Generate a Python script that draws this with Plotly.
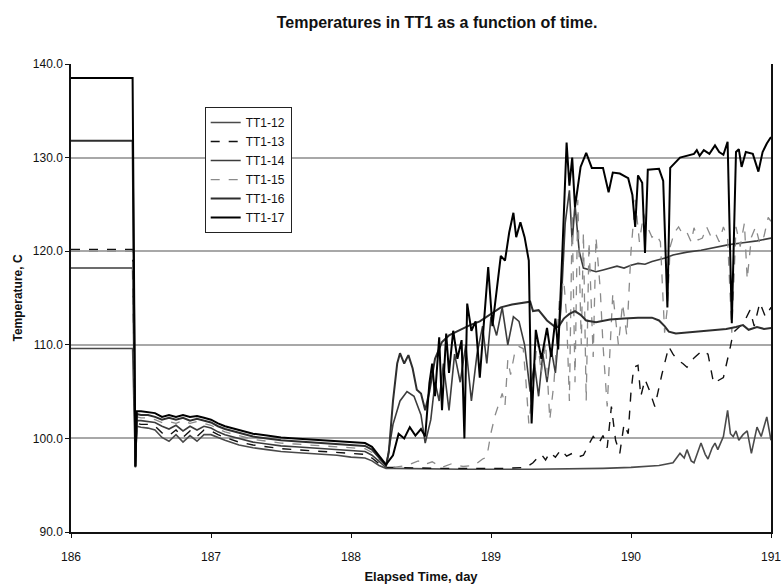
import plotly.graph_objects as go

# ---------------- data ----------------
names = ["TT1-12", "TT1-13", "TT1-14", "TT1-15", "TT1-16", "TT1-17"]

# initial plateau (day 186.0 - 186.44) and the short drop
t_init = [186.0, 186.44, 186.46]
init_12 = [109.6, 109.6, 96.9]
init_13 = [120.2, 120.2, 97.0]
init_14 = [118.2, 118.2, 97.0]
init_15 = [120.0, 120.0, 97.1]
init_16 = [131.8, 131.8, 97.0]
init_17 = [138.5, 138.5, 97.0]

# the slowly cooling bundle (day 186.47 - 188.25)
t_band = [186.47, 186.50, 186.55, 186.60, 186.65, 186.70, 186.75, 186.80, 186.85,
          186.90, 186.95, 187.00, 187.05, 187.10, 187.20, 187.30, 187.40, 187.50,
          187.60, 187.70, 187.80, 187.90, 188.00, 188.10, 188.15, 188.20, 188.25]
band_17 = [102.9, 102.9, 102.8, 102.7, 102.3, 102.5, 102.3, 102.5, 102.3, 102.4, 102.2, 102.0,
           101.6, 101.3, 100.9, 100.5, 100.3, 100.1, 100.0, 99.9, 99.8, 99.7, 99.6, 99.5, 99.1, 98.2, 97.2]
band_16 = [102.6, 102.5, 102.5, 102.3, 102.0, 102.2, 102.0, 102.2, 101.9, 102.1, 101.9, 101.7,
           101.3, 101.0, 100.6, 100.2, 100.0, 99.8, 99.7, 99.6, 99.5, 99.4, 99.3, 99.2, 98.8, 98.0, 97.1]
band_15 = [102.3, 102.2, 102.2, 102.0, 101.7, 101.8, 101.6, 101.9, 101.6, 101.8, 101.6, 101.4,
           101.0, 100.7, 100.3, 99.9, 99.7, 99.5, 99.4, 99.3, 99.2, 99.1, 99.0, 98.9, 98.5, 97.7, 97.0]
band_14 = [101.9, 101.9, 101.8, 101.7, 101.3, 101.0, 101.4, 100.8, 101.3, 100.9, 101.3, 101.1,
           100.7, 100.4, 100.0, 99.6, 99.4, 99.2, 99.1, 99.0, 98.9, 98.8, 98.7, 98.6, 98.2, 97.5, 96.9]
band_13 = [101.6, 101.5, 101.5, 101.3, 100.6, 100.3, 100.9, 100.1, 100.8, 100.2, 100.9, 100.8,
           100.4, 100.1, 99.6, 99.3, 99.1, 98.9, 98.8, 98.7, 98.6, 98.5, 98.4, 98.3, 97.9, 97.3, 96.9]
band_12 = [101.3, 101.2, 101.1, 100.9, 100.1, 99.7, 100.4, 99.6, 100.3, 99.7, 100.4, 100.4,
           100.1, 99.8, 99.3, 99.0, 98.8, 98.6, 98.5, 98.4, 98.3, 98.2, 98.0, 97.9, 97.6, 97.1, 96.8]

# later behaviour (day 188.25 - 191)
t_17 = [188.30, 188.34, 188.38, 188.42, 188.46, 188.50, 188.53, 188.56, 188.58, 188.60, 188.63,
        188.65, 188.68, 188.70, 188.73, 188.76, 188.79, 188.81, 188.83, 188.86, 188.89, 188.92,
        188.95, 188.98, 189.01, 189.04, 189.07, 189.10, 189.13, 189.16, 189.18, 189.21, 189.24,
        189.27, 189.29, 189.32, 189.36, 189.40, 189.43, 189.46, 189.48, 189.51, 189.54, 189.56,
        189.58, 189.60, 189.64, 189.68, 189.72, 189.80, 189.84, 189.87, 189.92, 189.98, 190.01,
        190.03, 190.05, 190.08, 190.10, 190.12, 190.20, 190.23, 190.26, 190.28, 190.35, 190.45,
        190.47, 190.49, 190.52, 190.56, 190.60, 190.63, 190.66, 190.69, 190.72, 190.75, 190.77,
        190.79, 190.82, 190.87, 190.91, 190.94, 190.97, 191.00]
v_17 = [98.2, 100.5, 100.0, 101.2, 100.3, 101.0, 100.2, 105.9, 108.0, 104.5, 110.8,
        103.0, 111.2, 107.0, 111.5, 108.5, 110.5, 100.0, 114.4, 111.5, 112.5, 106.5,
        112.5, 118.3, 112.0, 116.0, 119.5, 119.0, 122.0, 124.1, 121.5, 123.1, 121.5,
        119.0, 101.6, 111.6, 108.5, 111.8, 108.7, 112.8, 109.5, 120.0, 131.6, 127.0,
        130.0, 124.7, 129.0, 130.5, 128.9, 128.9, 126.3, 128.4, 128.3, 127.8, 126.0,
        122.6, 128.1, 127.3, 119.8, 128.7, 128.8, 127.5, 114.0, 128.9, 130.0, 130.4,
        130.8, 130.2, 130.8, 130.4, 131.3, 130.6, 130.3, 131.7, 112.3, 130.6, 130.9,
        129.0, 130.6, 130.4, 128.5, 130.6, 131.5, 132.2]

t_16 = [188.27, 188.30, 188.33, 188.35, 188.38, 188.41, 188.44, 188.47, 188.50, 188.53, 188.56,
        188.60, 188.65, 188.70, 188.78, 188.85, 188.92, 189.00, 189.07, 189.15, 189.22, 189.28,
        189.30, 189.34, 189.40, 189.45, 189.48, 189.52, 189.56, 189.60, 189.64, 189.68, 189.75,
        189.85, 189.95, 190.05, 190.15, 190.20, 190.24, 190.27, 190.32, 190.40, 190.50, 190.60,
        190.68, 190.75, 190.80, 190.84, 190.90, 190.95, 191.00]
v_16 = [98.5, 104.0, 108.0, 109.1, 108.0, 108.9, 107.5, 105.2, 104.8, 103.0, 105.0,
        108.5, 110.3, 111.0, 111.6, 112.1, 112.5, 113.3, 114.0, 114.3, 114.5, 114.6,
        113.6, 113.7, 112.6, 112.0, 111.9, 112.8, 113.3, 113.6, 113.2, 112.6, 112.4,
        112.7, 112.8, 112.9, 112.9, 112.6, 112.0, 111.4, 111.2, 111.3, 111.5, 111.6,
        111.7, 111.9, 112.1, 111.6, 111.9, 111.7, 111.8]

t_15 = [188.30, 188.40, 188.48, 188.52, 188.58, 188.65, 188.72, 188.80, 188.88, 188.94, 188.97,
        189.00, 189.03, 189.06, 189.08, 189.10, 189.12, 189.14, 189.17, 189.20, 189.23, 189.25,
        189.27, 189.30, 189.33, 189.36, 189.39, 189.42, 189.45, 189.49, 189.52, 189.54, 189.56,
        189.58, 189.60, 189.62, 189.645, 189.66, 189.68, 189.70, 189.73, 189.75, 189.78, 189.80,
        189.83, 189.87, 189.91, 189.94, 189.97, 190.00, 190.03, 190.06, 190.09, 190.12, 190.15,
        190.18, 190.21, 190.24, 190.26, 190.28, 190.31, 190.34, 190.37, 190.40, 190.43, 190.45,
        190.48, 190.51, 190.54, 190.57, 190.60, 190.63, 190.66, 190.69, 190.72, 190.75, 190.78,
        190.81, 190.83, 190.86, 190.89, 190.92, 190.95, 190.98, 191.00]
v_15 = [96.9, 97.1, 97.6, 97.2, 97.5, 96.9, 97.3, 97.0, 97.1, 97.8, 98.0,
        100.6, 102.5, 103.8, 104.8, 103.5, 108.4, 106.8, 109.2, 109.8, 109.6, 106.0,
        101.6, 105.5, 110.5, 107.0, 110.2, 102.0, 106.0, 115.1, 116.9, 113.0, 104.0,
        124.0, 106.0, 125.5, 110.0, 122.0, 104.0, 121.0, 108.7, 121.5, 116.0, 110.0,
        103.4, 115.5, 110.0, 114.4, 111.0, 120.0, 125.5, 121.0, 124.0, 122.5, 121.5,
        121.8, 121.0, 111.3, 114.0, 120.5, 122.0, 122.6, 121.8, 122.0, 121.0, 122.5,
        121.2, 121.4, 122.6, 121.6, 122.0, 121.0, 122.6, 121.4, 111.3, 122.6, 120.5,
        123.0, 117.0, 121.5, 122.6, 120.8, 121.6, 123.6, 123.2]

t_14 = [188.30, 188.35, 188.40, 188.45, 188.50, 188.53, 188.57, 188.60, 188.63, 188.66, 188.70,
        188.74, 188.78, 188.82, 188.86, 188.90, 188.94, 188.97, 189.00, 189.04, 189.08, 189.12,
        189.16, 189.20, 189.24, 189.28, 189.31, 189.34, 189.37, 189.40, 189.43, 189.46, 189.50,
        189.53, 189.56, 189.58, 189.60, 189.63, 189.66, 189.70, 189.75, 189.80, 189.85, 189.90,
        189.95, 190.00, 190.05, 190.10, 190.15, 190.20, 190.25, 190.30, 190.40, 190.50, 190.60,
        190.70, 190.80, 190.90, 191.00]
v_14 = [101.5, 104.0, 105.0, 104.5, 102.5, 99.5, 102.0, 106.0, 104.0, 108.0, 103.0,
        109.0, 106.0, 110.0, 104.0, 109.0, 112.0, 108.0, 113.0, 111.0, 114.0, 110.0,
        113.0, 112.5, 110.0, 105.0, 108.0, 104.5, 109.0, 106.0, 109.5, 107.0, 114.0,
        123.0, 126.5, 121.0, 125.0, 120.0, 118.2, 118.0, 117.8, 118.0, 118.2, 118.4,
        118.2, 118.5, 118.7, 118.6, 118.9, 119.1, 119.3, 119.6, 119.9, 120.1, 120.4,
        120.7, 120.9, 121.1, 121.4]

t_13 = [188.30, 188.60, 188.90, 189.10, 189.25, 189.30, 189.33, 189.36, 189.39, 189.42, 189.46,
        189.50, 189.54, 189.58, 189.62, 189.66, 189.70, 189.73, 189.77, 189.80, 189.83, 189.86,
        189.89, 189.92, 189.95, 189.98, 190.00, 190.02, 190.05, 190.07, 190.10, 190.13, 190.17,
        190.22, 190.27, 190.30, 190.33, 190.37, 190.40, 190.45, 190.51, 190.55, 190.59, 190.63,
        190.66, 190.71, 190.73, 190.78, 190.82, 190.85, 190.88, 190.92, 190.96, 191.00]
v_13 = [96.9, 96.8, 96.8, 96.8, 96.9, 97.4, 97.9, 98.3, 97.7, 98.5, 98.0,
        98.8, 98.1, 98.4, 98.0, 98.2, 99.4, 100.2, 99.5, 100.3, 99.0, 103.4,
        99.8, 98.4, 101.5, 100.5, 105.0, 107.6, 107.8, 104.5, 106.3, 105.2, 103.4,
        106.8, 109.8, 109.0, 108.4, 108.0, 107.6, 108.6, 109.4, 109.0, 105.9, 106.2,
        106.5, 109.8, 111.3, 112.0, 112.8, 113.7, 112.0, 114.5, 113.0, 114.0]

t_12 = [188.30, 188.80, 189.30, 189.80, 190.00, 190.20, 190.30, 190.35, 190.38, 190.40, 190.43,
        190.45, 190.50, 190.53, 190.55, 190.58, 190.60, 190.62, 190.66, 190.69, 190.71, 190.73,
        190.75, 190.77, 190.80, 190.83, 190.86, 190.90, 190.93, 190.97, 191.00]
v_12 = [96.8, 96.7, 96.7, 96.8, 96.9, 97.1, 97.4, 98.4, 97.9, 98.8, 97.6,
        97.4, 99.5, 98.3, 97.8, 99.0, 99.5, 98.8, 100.2, 103.0, 100.5, 100.2,
        100.8, 99.8, 100.4, 100.8, 98.4, 101.2, 100.2, 102.3, 99.8]

y_tick_vals = [90, 100, 110, 120, 130, 140]
x_tick_vals = [186, 187, 188, 189, 190, 191]
x_tick_text = ["186", "187", "188", "189", "190", "191"]

series = {
    "TT1-12": (init_12, band_12, t_12, v_12),
    "TT1-13": (init_13, band_13, t_13, v_13),
    "TT1-14": (init_14, band_14, t_14, v_14),
    "TT1-15": (init_15, band_15, t_15, v_15),
    "TT1-16": (init_16, band_16, t_16, v_16),
    "TT1-17": (init_17, band_17, t_17, v_17),
}

styles = {
    "TT1-12": dict(color="#4a4a4a", width=1.6, dash="solid"),
    "TT1-13": dict(color="#111111", width=1.4, dash="dash"),
    "TT1-14": dict(color="#3c3c3c", width=1.6, dash="solid"),
    "TT1-15": dict(color="#8a8a8a", width=1.3, dash="dash"),
    "TT1-16": dict(color="#2e2e2e", width=2.0, dash="solid"),
    "TT1-17": dict(color="#000000", width=2.0, dash="solid"),
}

FONT = "Liberation Sans, Arial, sans-serif"

fig = go.Figure()
for name in names:
    init_v, band_v, t_post, v_post = series[name]
    fig.add_trace(go.Scatter(
        x=t_init + t_band + t_post,
        y=init_v + band_v + v_post,
        mode="lines",
        name=name,
        line=styles[name],
    ))

fig.update_layout(
    width=783, height=584,
    margin=dict(l=71, r=12, t=64, b=52),
    paper_bgcolor="white", plot_bgcolor="white",
    font=dict(family=FONT, size=12, color="#111"),
    title=dict(
        text="<b>Temperatures in TT1 as a function of time.</b>",
        x=437 / 783, xref="container", xanchor="center",
        y=1 - 22 / 584, yref="container", yanchor="middle",
        font=dict(family=FONT, size=16, color="#111"),
    ),
    showlegend=True,
    legend=dict(
        x=0.191, y=0.908, xanchor="left", yanchor="top",
        bordercolor="#222", borderwidth=1, bgcolor="white",
        font=dict(family=FONT, size=12, color="#111"),
        itemwidth=30, tracegroupgap=0,
    ),
)

fig.update_xaxes(
    range=[186, 191], tickvals=x_tick_vals, ticktext=x_tick_text,
    showgrid=False, zeroline=False, automargin=False,
    showline=True, linecolor="#111", linewidth=1.5,
    ticks="outside", ticklen=4, tickcolor="#111", ticklabelstandoff=9,
    tickfont=dict(family=FONT, size=12, color="#111"),
    title=dict(text="<b>Elapsed Time, day</b>", standoff=10,
               font=dict(family=FONT, size=13, color="#111")),
)
fig.update_yaxes(
    range=[90, 140], tickvals=y_tick_vals, tickformat=".1f",
    showgrid=True, gridcolor="#a8a8a8", gridwidth=1.5, zeroline=False, automargin=False,
    showline=True, mirror=True, linecolor="#111", linewidth=1.5,
    ticks="outside", ticklen=4, tickcolor="#111",
    tickfont=dict(family=FONT, size=12, color="#111"),
    title=dict(text="<b>Temperature, C</b>", standoff=8,
               font=dict(family=FONT, size=12, color="#111")),
)

fig.write_html("out.html")
